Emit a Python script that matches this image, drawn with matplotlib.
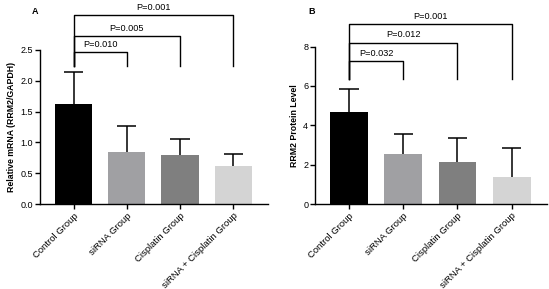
import matplotlib.pyplot as plt

plt.rcParams["font.family"] = ["Liberation Sans", "DejaVu Sans"]
plt.rcParams["font.size"] = 6.5

groups = ["Control Group", "siRNA Group", "Cisplatin Group", "siRNA + Cisplatin Group"]
colors = ["#000000", "#a0a0a3", "#7f7f7f", "#d4d4d4"]

mrna_mean = [1.63, 0.85, 0.79, 0.62]
mrna_err = [0.51, 0.42, 0.26, 0.19]
mrna_p = ["P=0.010", "P=0.005", "P=0.001"]
mrna_bracket_y = [2.46, 2.73, 3.07]
mrna_leg_y = 2.24

protein_mean = [4.68, 2.54, 2.16, 1.36]
protein_err = [1.18, 1.01, 1.18, 1.47]
protein_p = ["P=0.032", "P=0.012", "P=0.001"]
protein_bracket_y = [7.26, 8.2, 9.12]
protein_leg_y = 6.35


def panel(ax, means, errs, pvals, bracket_y, leg_y, ymax, ticks, ticklabels, ylabel):
    x = list(range(len(groups)))
    ax.bar(x, means, width=0.7, color=colors, zorder=2)
    tops = [m + e for m, e in zip(means, errs)]
    # upper-only error bars
    ax.vlines(x, means, tops, color="black", lw=1.1, zorder=1)
    ax.hlines(tops, [i - 0.18 for i in x], [i + 0.18 for i in x], color="black", lw=1.1, zorder=1)
    ax.set_xlim(-0.63, 3.65)
    ax.set_ylim(0, ymax)
    ax.set_yticks(ticks)
    ax.set_yticklabels(ticklabels)
    ax.set_xticks(x)
    ax.set_xticklabels(groups, rotation=45, ha="right", rotation_mode="anchor", fontsize=6.8)
    ax.set_ylabel(ylabel, fontweight="bold", fontsize=6.3, labelpad=3)
    for s in ["top", "right"]:
        ax.spines[s].set_visible(False)
    for s in ["left", "bottom"]:
        ax.spines[s].set_linewidth(1.0)
    ax.tick_params(width=1.0, length=3.5, pad=1.5)
    # significance brackets
    for i, (p, yb) in enumerate(zip(pvals, bracket_y)):
        ax.plot([0, 0, i + 1, i + 1], [leg_y, yb, yb, leg_y], color="black", lw=1.0,
                clip_on=False)
        ax.text((i + 1) / 2, yb + ymax * 0.02, p, ha="center", va="bottom", fontsize=6.6)


fig = plt.figure(figsize=(5.49, 2.89), dpi=100)
ax1 = fig.add_axes([0.073, 0.294, 0.415, 0.533])
ax2 = fig.add_axes([0.574, 0.294, 0.422, 0.545])

panel(ax1, mrna_mean, mrna_err, mrna_p, mrna_bracket_y, mrna_leg_y, 2.5,
      [0, 0.5, 1.0, 1.5, 2.0, 2.5], ["0.0", "0.5", "1.0", "1.5", "2.0", "2.5"],
      "Relative mRNA (RRM2/GAPDH)")
panel(ax2, protein_mean, protein_err, protein_p, protein_bracket_y, protein_leg_y, 8,
      [0, 2, 4, 6, 8], ["0", "2", "4", "6", "8"],
      "RRM2 Protein Level")

fig.text(35 / 549, 1 - 12 / 289, "A", fontweight="bold", fontsize=6.5, ha="center", va="center")
fig.text(312 / 549, 1 - 11 / 289, "B", fontweight="bold", fontsize=6.5, ha="center", va="center")

fig.savefig("out.png", dpi=100)
